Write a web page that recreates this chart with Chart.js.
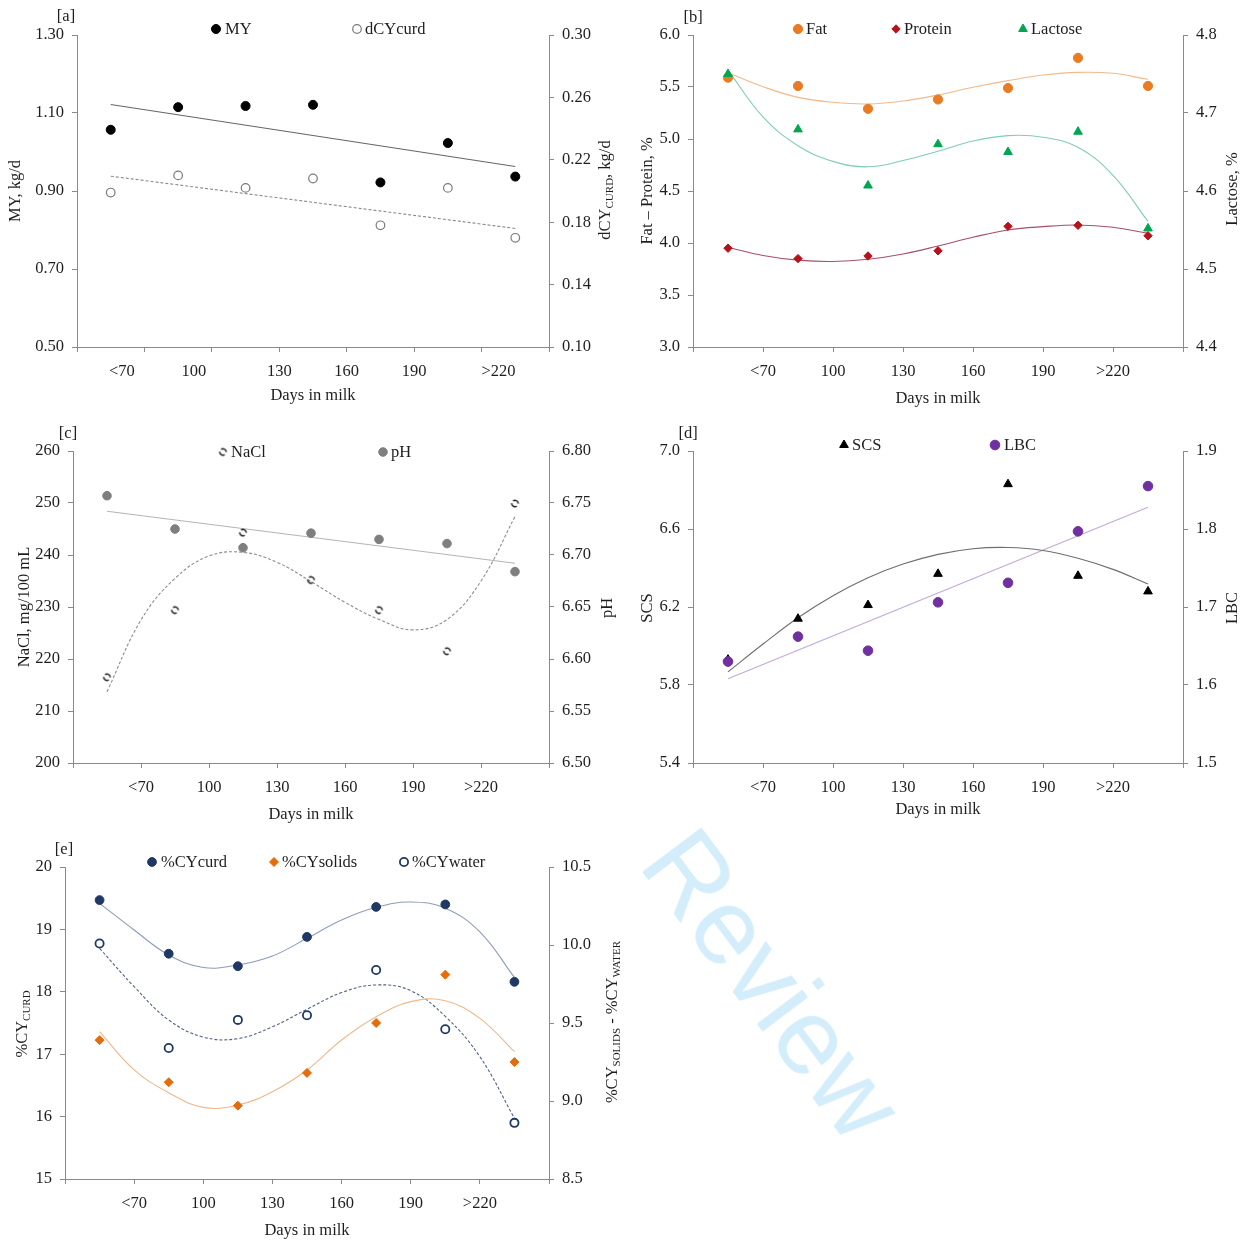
<!DOCTYPE html>
<html>
<head>
<meta charset="utf-8">
<script src="https://cdn.jsdelivr.net/npm/chart.js@4.4.1/dist/chart.umd.min.js"></script>
<style>
  body { margin: 0; background: #fff; width: 1245px; height: 1246px; position: relative; overflow: hidden; }
  canvas { position: absolute; }
  #wm {
    position: absolute; left: 773px; top: 984px;
    font: 108px "Liberation Sans", Arial, sans-serif; line-height: 1; white-space: nowrap;
    color: #d3edfb; transform: translate(-50%, -50%) rotate(53deg); pointer-events: none;
  }
</style>
</head>
<body>
<canvas id="pa" width="620" height="410" style="left:0;top:0"></canvas>
<canvas id="pb" width="625" height="410" style="left:620px;top:0"></canvas>
<canvas id="pc" width="620" height="410" style="left:0;top:418px"></canvas>
<canvas id="pd" width="625" height="410" style="left:620px;top:418px"></canvas>
<canvas id="pe" width="640" height="410" style="left:0;top:836px"></canvas>
<div id="wm">Review</div>
<script>
// x positions (days in milk) and axis labels
const days = [55, 85, 115, 145, 175, 205, 235];
const fitDays = [55, 70, 85, 100, 115, 130, 145, 160, 175, 190, 205, 220, 235];
const lineDays = [55, 235];
const tickLabels = ['<70', '100', '130', '160', '190', '>220'];
const tickValues = [70, 100, 130, 160, 190, 220];
const tickValuesA = [60, 92, 130, 160, 190, 227.5];

// [a]
const my = [1.057, 1.115, 1.118, 1.121, 0.922, 1.023, 0.937];
const dcyCurd = [0.199, 0.210, 0.202, 0.208, 0.178, 0.202, 0.170];
const myFit = [1.122, 0.963];
const dcyCurdFit = [0.2095, 0.176];

// [b]
const fat = [5.59, 5.51, 5.29, 5.38, 5.49, 5.78, 5.51];
const protein = [3.95, 3.85, 3.875, 3.925, 4.16, 4.17, 4.07];
const lactose = [4.750, 4.679, 4.607, 4.660, 4.650, 4.676, 4.552];
const fatFit = [5.637, 5.503, 5.40, 5.353, 5.337, 5.365, 5.423, 5.497, 5.561, 5.615, 5.641, 5.632, 5.574];
const proteinFit = [3.959, 3.88, 3.835, 3.822, 3.843, 3.894, 3.971, 4.055, 4.125, 4.157, 4.173, 4.151, 4.093];
const lactoseFit = [4.755, 4.695, 4.658, 4.638, 4.631, 4.639, 4.651, 4.664, 4.671, 4.669, 4.656, 4.62, 4.561];

// [c]
const nacl = [216.5, 229.4, 244.3, 235.2, 229.4, 221.5, 249.9];
const ph = [6.757, 6.725, 6.707, 6.721, 6.715, 6.711, 6.684];
const naclFit = [213.7, 227.5, 235.5, 239.8, 240.5, 238.6, 234.9, 230.9, 227.6, 225.6, 227.6, 235.0, 247.4];
const phFit = [6.742, 6.692];

// [d]
const scs = [5.93, 6.14, 6.21, 6.37, 6.83, 6.36, 6.28];
const lbc = [1.630, 1.662, 1.644, 1.706, 1.731, 1.797, 1.855];
const scsFit = [5.867, 6.01, 6.145, 6.258, 6.35, 6.42, 6.47, 6.499, 6.505, 6.49, 6.45, 6.393, 6.318];
const lbcFit = [1.608, 1.828];

// [e]
const cyCurd = [19.47, 18.61, 18.41, 18.88, 19.36, 19.40, 18.16];
const cySolids = [9.39, 9.12, 8.97, 9.18, 9.50, 9.81, 9.25];
const cyWater = [10.01, 9.34, 9.52, 9.55, 9.84, 9.46, 8.86];
const cyCurdFit = [19.418, 18.99, 18.59, 18.39, 18.43, 18.574, 18.857, 19.15, 19.354, 19.44, 19.34, 18.96, 18.23];
const cySolidsFit = [9.444, 9.199, 9.053, 8.959, 8.974, 9.06, 9.199, 9.391, 9.54, 9.637, 9.643, 9.53, 9.316];
const cyWaterFit = [9.979, 9.733, 9.519, 9.41, 9.40, 9.476, 9.588, 9.695, 9.744, 9.707, 9.542, 9.284, 8.889];

const SERIF = "'Liberation Serif', 'Times New Roman', serif";
const FS = 16.5;
const AX = '#8a8a8a';
const TXT = '#1e1e1e';

function xy(xs, ys) { return xs.map((x, i) => ({ x: x, y: ys[i] })); }

// broken ring used for the NaCl marks
function dashedRing(r, color) {
  const c = document.createElement('canvas');
  const s = Math.ceil(r * 2 + 4);
  c.width = s; c.height = s;
  const g = c.getContext('2d');
  g.strokeStyle = color; g.lineWidth = 1.4; g.setLineDash([7, 3]);
  g.beginPath(); g.arc(s / 2, s / 2, r, -2.2, Math.PI * 2 - 2.2); g.stroke();
  return c;
}
const ring = dashedRing(3.2, '#111');

const M = {
  my:     { pointStyle: 'circle', pointRadius: 4.5, pointBackgroundColor: '#000', pointBorderColor: '#000', pointBorderWidth: 1 },
  dcy:    { pointStyle: 'circle', pointRadius: 4.3, pointBackgroundColor: '#fff', pointBorderColor: '#7a7a7a', pointBorderWidth: 1.2 },
  fat:    { pointStyle: 'circle', pointRadius: 4.6, pointBackgroundColor: '#e97b25', pointBorderColor: '#e97b25', pointBorderWidth: 1 },
  prot:   { pointStyle: 'rectRot', pointRadius: 4.2, pointBackgroundColor: '#b5121b', pointBorderColor: '#b5121b', pointBorderWidth: 1 },
  lact:   { pointStyle: 'triangle', pointRadius: 5, pointBackgroundColor: '#00a651', pointBorderColor: '#00a651', pointBorderWidth: 1 },
  nacl:   { pointStyle: ring, pointRadius: 3.2, pointBorderWidth: 0 },
  ph:     { pointStyle: 'circle', pointRadius: 4.3, pointBackgroundColor: '#7f7f7f', pointBorderColor: '#7f7f7f', pointBorderWidth: 1 },
  scs:    { pointStyle: 'triangle', pointRadius: 5, pointBackgroundColor: '#000', pointBorderColor: '#000', pointBorderWidth: 1 },
  lbc:    { pointStyle: 'circle', pointRadius: 4.8, pointBackgroundColor: '#7030a0', pointBorderColor: '#7030a0', pointBorderWidth: 1 },
  curd:   { pointStyle: 'circle', pointRadius: 4.4, pointBackgroundColor: '#1f3864', pointBorderColor: '#1f3864', pointBorderWidth: 1 },
  solids: { pointStyle: 'rectRot', pointRadius: 4.5, pointBackgroundColor: '#e46c0a', pointBorderColor: '#e46c0a', pointBorderWidth: 1 },
  water:  { pointStyle: 'circle', pointRadius: 4.1, pointBackgroundColor: '#fff', pointBorderColor: '#1f3864', pointBorderWidth: 1.8 }
};

// order: lower value is drawn on top
function marks(label, ys, axis, m, order) {
  return Object.assign({ label: label, data: xy(days, ys), yAxisID: axis, showLine: false, order: order || 1 }, m);
}
function fit(label, xs, ys, axis, color, dash) {
  return {
    label: label, data: xy(xs, ys), yAxisID: axis, showLine: true, pointRadius: 0,
    borderColor: color, borderWidth: 1.1, borderDash: dash || [], tension: 0.4, fill: false, order: 5
  };
}

// legend / marker drawing on the canvas
function drawMarker(ctx, m, x, y) {
  const r = m.pointRadius;
  ctx.save();
  if (typeof m.pointStyle !== 'string') {
    ctx.drawImage(m.pointStyle, x - m.pointStyle.width / 2, y - m.pointStyle.height / 2);
    ctx.restore();
    return;
  }
  ctx.fillStyle = m.pointBackgroundColor;
  ctx.strokeStyle = m.pointBorderColor;
  ctx.lineWidth = m.pointBorderWidth;
  ctx.beginPath();
  if (m.pointStyle === 'circle') {
    ctx.arc(x, y, r, 0, Math.PI * 2);
  } else if (m.pointStyle === 'triangle') {
    for (let k = 0; k < 3; k++) {
      const a = k * 2 * Math.PI / 3;
      const px = x + Math.sin(a) * r, py = y - Math.cos(a) * r;
      if (k === 0) ctx.moveTo(px, py); else ctx.lineTo(px, py);
    }
  } else if (m.pointStyle === 'rectRot') {
    ctx.moveTo(x, y - r); ctx.lineTo(x + r, y); ctx.lineTo(x, y + r); ctx.lineTo(x - r, y);
  }
  ctx.closePath();
  ctx.fill();
  ctx.stroke();
  ctx.restore();
}

// rotated axis title, parts = [[text, isSub], ...]
function drawVTitle(ctx, parts, cx, cy) {
  const main = FS + 'px ' + SERIF, sub = '11px ' + SERIF;
  ctx.save();
  ctx.translate(cx, cy);
  ctx.rotate(-Math.PI / 2);
  ctx.fillStyle = TXT;
  ctx.textBaseline = 'alphabetic';
  ctx.textAlign = 'left';
  let total = 0;
  const ws = parts.map(p => { ctx.font = p[1] ? sub : main; const w = ctx.measureText(p[0]).width; total += w; return w; });
  let x = -total / 2;
  parts.forEach((p, i) => {
    ctx.font = p[1] ? sub : main;
    ctx.fillText(p[0], x, p[1] ? 8.5 : 5.5);
    x += ws[i];
  });
  ctx.restore();
}

function makePanel(p) {
  const yAxis = (pos, a, width) => ({
    type: 'linear', position: pos, min: a.min, max: a.max,
    ticks: { stepSize: a.step, padding: 8, color: TXT, font: { family: SERIF, size: FS }, callback: v => v.toFixed(a.dec) },
    grid: { drawOnChartArea: false, tickLength: 5, color: AX },
    border: { color: AX },
    afterFit: s => { s.width = width; }
  });
  new Chart(document.getElementById(p.id), {
    type: 'scatter',
    data: { datasets: p.datasets },
    options: {
      responsive: false, animation: false, events: [],
      layout: { padding: { top: p.area.t, left: 0, right: 0, bottom: 0 } },
      plugins: { legend: { display: false }, tooltip: { enabled: false } },
      scales: {
        x: {
          type: 'linear', position: 'bottom', min: 40, max: 250, weight: 0,
          ticks: { display: false, stepSize: 30 },
          grid: { drawOnChartArea: false, tickLength: 5, color: AX },
          border: { color: AX },
          afterFit: s => { s.height = 5; }
        },
        xl: {
          type: 'linear', position: 'bottom', min: 40, max: 250, weight: 1,
          afterBuildTicks: s => { s.ticks = p.labelVals.map(v => ({ value: v })); },
          ticks: {
            autoSkip: false, maxRotation: 0, padding: p.labelPad, color: TXT,
            font: { family: SERIF, size: FS }, callback: (v, i) => tickLabels[i]
          },
          grid: { display: false },
          border: { display: false },
          title: { display: true, text: 'Days in milk', color: TXT, font: { family: SERIF, size: FS }, padding: { top: 0, bottom: p.titlePad } },
          afterFit: s => { s.height = p.h - p.area.b - 5; }
        },
        y: yAxis('left', p.y, p.area.l),
        y1: yAxis('right', p.y1, p.w - p.area.r)
      }
    },
    plugins: [{
      id: 'annot',
      afterDraw(chart) {
        const ctx = chart.ctx;
        ctx.save();
        ctx.fillStyle = TXT;
        ctx.font = FS + 'px ' + SERIF;
        ctx.textBaseline = 'middle';
        ctx.textAlign = 'center';
        ctx.fillText(p.tag[0], p.tag[1], p.tag[2]);
        ctx.textAlign = 'left';
        p.legend.forEach(l => {
          drawMarker(ctx, l.m, l.mx, p.legendY);
          ctx.fillStyle = TXT;
          ctx.fillText(l.text, l.tx, p.legendY + 1);
        });
        ctx.restore();
        drawVTitle(ctx, p.leftTitle[0], p.leftTitle[1], p.leftTitle[2]);
        drawVTitle(ctx, p.rightTitle[0], p.rightTitle[1], p.rightTitle[2]);
      }
    }]
  });
}

makePanel({
  id: 'pa', w: 620, h: 410, area: { l: 77, r: 549, t: 35, b: 347 },
  labelVals: tickValuesA, labelPad: 2.1, titlePad: 4.1,
  y: { min: 0.5, max: 1.3, step: 0.2, dec: 2 }, y1: { min: 0.1, max: 0.3, step: 0.04, dec: 2 },
  tag: ['[a]', 66, 17], legendY: 29,
  legend: [{ m: M.my, mx: 216, tx: 225, text: 'MY' }, { m: M.dcy, mx: 357, tx: 365, text: 'dCYcurd' }],
  leftTitle: [[['MY, kg/d']], 14, 191],
  rightTitle: [[['dCY'], ['CURD', 1], [', kg/d']], 604, 190],
  datasets: [
    marks('MY', my, 'y', M.my),
    marks('dCYcurd', dcyCurd, 'y1', M.dcy),
    fit('MY trend', lineDays, myFit, 'y', '#666', []),
    fit('dCYcurd trend', lineDays, dcyCurdFit, 'y1', '#8a8a8a', [3, 2])
  ]
});

makePanel({
  id: 'pb', w: 625, h: 410, area: { l: 73, r: 563, t: 35, b: 347 },
  labelVals: tickValues, labelPad: 2.1, titlePad: 1.1,
  y: { min: 3, max: 6, step: 0.5, dec: 1 }, y1: { min: 4.4, max: 4.8, step: 0.1, dec: 1 },
  tag: ['[b]', 73, 18], legendY: 29,
  legend: [
    { m: M.fat, mx: 178, tx: 186, text: 'Fat' },
    { m: M.prot, mx: 276, tx: 284, text: 'Protein' },
    { m: M.lact, mx: 403, tx: 411, text: 'Lactose' }
  ],
  leftTitle: [[['Fat \u2013 Protein, %']], 26, 191],
  rightTitle: [[['Lactose, %']], 611, 189],
  datasets: [
    marks('Fat', fat, 'y', M.fat, 2),
    marks('Protein', protein, 'y', M.prot, 2),
    marks('Lactose', lactose, 'y1', M.lact, 1),
    fit('Fat trend', fitDays, fatFit, 'y', '#f2b98a'),
    fit('Protein trend', fitDays, proteinFit, 'y', '#a5506a'),
    fit('Lactose trend', fitDays, lactoseFit, 'y1', '#7fcdb8')
  ]
});

makePanel({
  id: 'pc', w: 620, h: 410, area: { l: 73, r: 549, t: 33, b: 345 },
  labelVals: tickValues, labelPad: 2.1, titlePad: 3.1,
  y: { min: 200, max: 260, step: 10, dec: 0 }, y1: { min: 6.5, max: 6.8, step: 0.05, dec: 2 },
  tag: ['[c]', 68, 16], legendY: 34,
  legend: [{ m: M.nacl, mx: 223, tx: 231, text: 'NaCl' }, { m: M.ph, mx: 383, tx: 391, text: 'pH' }],
  leftTitle: [[['NaCl, mg/100 mL']], 23, 189],
  rightTitle: [[['pH']], 606, 190],
  datasets: [
    marks('NaCl', nacl, 'y', M.nacl),
    marks('pH', ph, 'y1', M.ph),
    fit('NaCl trend', fitDays, naclFit, 'y', '#8c8c8c', [3, 2]),
    fit('pH trend', lineDays, phFit, 'y1', '#b5b5b5')
  ]
});

makePanel({
  id: 'pd', w: 625, h: 410, area: { l: 73, r: 563, t: 33, b: 345 },
  labelVals: tickValues, labelPad: 2.1, titlePad: 8.1,
  y: { min: 5.4, max: 7.0, step: 0.4, dec: 1 }, y1: { min: 1.5, max: 1.9, step: 0.1, dec: 1 },
  tag: ['[d]', 68, 16], legendY: 27,
  legend: [{ m: M.scs, mx: 224, tx: 232, text: 'SCS' }, { m: M.lbc, mx: 375, tx: 384, text: 'LBC' }],
  leftTitle: [[['SCS']], 26, 190],
  rightTitle: [[['LBC']], 611, 190],
  datasets: [
    marks('SCS', scs, 'y', M.scs, 2),
    marks('LBC', lbc, 'y1', M.lbc, 1),
    fit('SCS trend', fitDays, scsFit, 'y', '#6e6e6e'),
    fit('LBC trend', lineDays, lbcFit, 'y1', '#c3a9d6')
  ]
});

makePanel({
  id: 'pe', w: 640, h: 410, area: { l: 65, r: 549, t: 31, b: 343 },
  labelVals: tickValues, labelPad: 2.1, titlePad: 5.1,
  y: { min: 15, max: 20, step: 1, dec: 0 }, y1: { min: 8.5, max: 10.5, step: 0.5, dec: 1 },
  tag: ['[e]', 64, 14], legendY: 26,
  legend: [
    { m: M.curd, mx: 152, tx: 161, text: '%CYcurd' },
    { m: M.solids, mx: 274, tx: 282, text: '%CYsolids' },
    { m: M.water, mx: 404, tx: 412, text: '%CYwater' }
  ],
  leftTitle: [[['%CY'], ['CURD', 1]], 21, 188],
  rightTitle: [[['%CY'], ['SOLIDS', 1], [' - %CY'], ['WATER', 1]], 611, 186],
  datasets: [
    marks('%CYcurd', cyCurd, 'y', M.curd),
    marks('%CYsolids', cySolids, 'y1', M.solids),
    marks('%CYwater', cyWater, 'y1', M.water),
    fit('%CYcurd trend', fitDays, cyCurdFit, 'y', '#8c9db5'),
    fit('%CYsolids trend', fitDays, cySolidsFit, 'y1', '#f0b88a'),
    fit('%CYwater trend', fitDays, cyWaterFit, 'y1', '#4f6282', [3, 2])
  ]
});
</script>
</body>
</html>
